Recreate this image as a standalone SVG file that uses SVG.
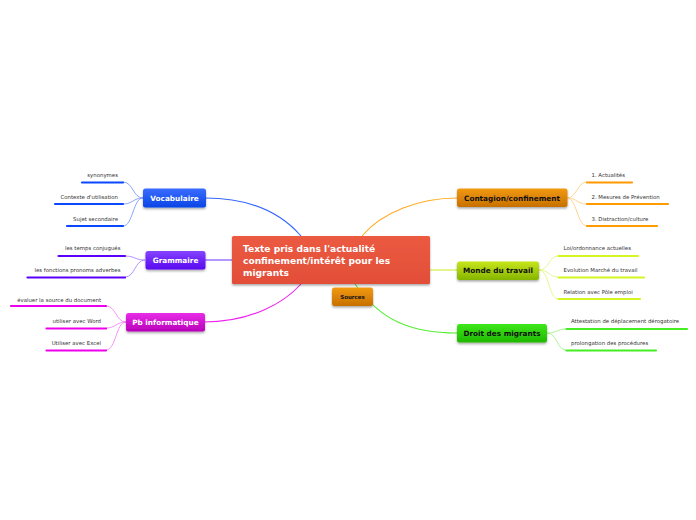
<svg xmlns="http://www.w3.org/2000/svg" width="696" height="520" viewBox="0 0 696 520">
<defs>
<filter id="sh" x="-20%" y="-30%" width="140%" height="170%"><feDropShadow dx="0" dy="1.5" stdDeviation="1.2" flood-color="#000" flood-opacity="0.35"/></filter>
<linearGradient id="gBlue" x1="0" y1="0" x2="0" y2="1"><stop offset="0" stop-color="#3a6cff"/><stop offset="1" stop-color="#0a45e6"/></linearGradient>
<linearGradient id="gPurple" x1="0" y1="0" x2="0" y2="1"><stop offset="0" stop-color="#8444ff"/><stop offset="1" stop-color="#5a08f0"/></linearGradient>
<linearGradient id="gMag" x1="0" y1="0" x2="0" y2="1"><stop offset="0" stop-color="#e82ee8"/><stop offset="1" stop-color="#b800b8"/></linearGradient>
<linearGradient id="gOrange" x1="0" y1="0" x2="0" y2="1"><stop offset="0" stop-color="#f29a12"/><stop offset="1" stop-color="#c77000"/></linearGradient>
<linearGradient id="gYel" x1="0" y1="0" x2="0" y2="1"><stop offset="0" stop-color="#c6e61a"/><stop offset="1" stop-color="#86b500"/></linearGradient>
<linearGradient id="gGreen" x1="0" y1="0" x2="0" y2="1"><stop offset="0" stop-color="#3ee81a"/><stop offset="1" stop-color="#1fb800"/></linearGradient>
<linearGradient id="gRed" x1="0" y1="0" x2="0" y2="1"><stop offset="0" stop-color="#ec5a42"/><stop offset="1" stop-color="#e24e38"/></linearGradient>
</defs>
<style>
.t{font-family:"DejaVu Sans",Verdana,sans-serif;font-weight:bold;font-size:7.3px;text-anchor:middle;dominant-baseline:central}
.w{fill:#fff}
.k{fill:#111}
.s{font-family:"DejaVu Sans",Verdana,sans-serif;font-size:5.4px;fill:#333}
.r{text-anchor:end}
.c{fill:none;stroke-width:1.1}
.cc{fill:none;stroke-width:0.8}
.u{stroke-width:2.2;stroke-linecap:round}
</style>
<g id="connectors">
<path class="c" stroke="#3366ff" d="M205,198 C252,198 282,214 301,236"/>
<path class="c" stroke="#7744ff" d="M205,260 L232,260"/>
<path class="c" stroke="#ee22ee" d="M204,322 C252,322 285,302 301,284"/>
<path class="c" stroke="#ffaa22" d="M362,236 C382,212 420,198 457,198"/>
<path class="c" stroke="#ccee33" d="M430,270 L457,270"/>
<path class="c" stroke="#55ee33" d="M355,284 C380,320 410,333 457,333"/>
<g stroke="#6f8fff">
<path class="cc" d="M143,198 C133,198 133,182 123,182"/>
<path class="cc" d="M143,198 C133,198 133,204 123,204"/>
<path class="cc" d="M143,198 C133,198 133,226 123,226"/>
</g>
<g stroke="#a07aff">
<path class="cc" d="M145,260 C135,260 135,256 125,256"/>
<path class="cc" d="M145,260 C135,260 135,277 125,277"/>
</g>
<g stroke="#f27af2">
<path class="cc" d="M126,322 C116,322 116,306 106,306"/>
<path class="cc" d="M126,322 C116,322 116,328 106,328"/>
<path class="cc" d="M126,322 C116,322 116,350 106,350"/>
</g>
<g stroke="#ffcc77">
<path class="cc" d="M567,198 C577,198 577,182 587,182"/>
<path class="cc" d="M567,198 C577,198 577,204 587,204"/>
<path class="cc" d="M567,198 C577,198 577,226 587,226"/>
</g>
<g stroke="#e0f577">
<path class="cc" d="M539,270 C549,270 549,256 558,256"/>
<path class="cc" d="M539,270 C549,270 549,277 558,277"/>
<path class="cc" d="M539,270 C549,270 549,299 558,299"/>
</g>
<g stroke="#99f27a">
<path class="cc" d="M547,333 C557,333 557,329 566,329"/>
<path class="cc" d="M547,333 C557,333 557,350 566,350"/>
</g>
</g>
<g id="central">
<rect x="232" y="236" width="198" height="48" rx="1.5" fill="url(#gRed)" filter="url(#sh)"/>
<text font-family="'DejaVu Sans',Verdana,sans-serif" font-weight="bold" font-size="9.1" fill="#fff"><tspan x="243" y="251.8">Texte pris dans l'actualité</tspan><tspan x="243" y="263.8">confinement/intérêt pour les</tspan><tspan x="243" y="275.8">migrants</tspan></text>
</g>
<g id="vocabulaire">
<rect x="143" y="188.5" width="63" height="19" rx="2.5" fill="url(#gBlue)" filter="url(#sh)"/>
<text class="t w" x="174.5" y="198">Vocabulaire</text>
<line class="u" stroke="#0a47ff" x1="82" y1="182.5" x2="123" y2="182.5"/>
<text class="s r" x="118" y="177">synonymes</text>
<line class="u" stroke="#0a47ff" x1="55" y1="204" x2="123" y2="204"/>
<text class="s r" x="118" y="198.7">Contexte d'utilisation</text>
<line class="u" stroke="#0a47ff" x1="67" y1="226" x2="123" y2="226"/>
<text class="s r" x="118" y="221">Sujet secondaire</text>
</g>
<g id="grammaire">
<rect x="145.5" y="251" width="60" height="18.5" rx="2.5" fill="url(#gPurple)" filter="url(#sh)"/>
<text class="t w" x="175.5" y="260.3">Grammaire</text>
<line class="u" stroke="#5a00ff" x1="58.5" y1="256" x2="125" y2="256"/>
<text class="s r" x="120.5" y="250">les temps conjugués</text>
<line class="u" stroke="#5a00ff" x1="27.5" y1="277.5" x2="125" y2="277.5"/>
<text class="s r" x="120.5" y="271.8">les fonctions pronoms adverbes</text>
</g>
<g id="pb-informatique">
<rect x="126" y="313" width="79" height="18.5" rx="2.5" fill="url(#gMag)" filter="url(#sh)"/>
<text class="t w" x="165.5" y="322.3">Pb informatique</text>
<line class="u" stroke="#ee00ee" x1="11" y1="306" x2="106" y2="306"/>
<text class="s r" x="101" y="302">évaluer la source du document</text>
<line class="u" stroke="#ee00ee" x1="46.5" y1="328.5" x2="106" y2="328.5"/>
<text class="s r" x="101" y="323">utiliser avec Word</text>
<line class="u" stroke="#ee00ee" x1="46.5" y1="350.5" x2="106" y2="350.5"/>
<text class="s r" x="101" y="344.7">Utiliser avec Excel</text>
</g>
<g id="contagion">
<rect x="457" y="188.5" width="110.5" height="18.5" rx="2.5" fill="url(#gOrange)" filter="url(#sh)"/>
<text class="t k" x="512" y="198">Contagion/confinement</text>
<line class="u" stroke="#ff9a00" x1="587" y1="182.5" x2="632" y2="182.5"/>
<text class="s" x="591.5" y="177">1.  Actualités</text>
<line class="u" stroke="#ff9a00" x1="587" y1="204" x2="668" y2="204"/>
<text class="s" x="591.5" y="198.7">2.  Mesures de Prévention</text>
<line class="u" stroke="#ff9a00" x1="587" y1="226" x2="657" y2="226"/>
<text class="s" x="591.5" y="221">3.  Distraction/culture</text>
</g>
<g id="monde-du-travail">
<rect x="457" y="261.5" width="82" height="18.5" rx="2.5" fill="url(#gYel)" filter="url(#sh)"/>
<text class="t k" x="498" y="270.8">Monde du travail</text>
<line class="u" stroke="#d4f520" x1="558.5" y1="256" x2="638" y2="256"/>
<text class="s" x="563.5" y="250.3">Loi/ordonnance actuelles</text>
<line class="u" stroke="#d4f520" x1="558.5" y1="277.5" x2="644" y2="277.5"/>
<text class="s" x="563.5" y="272">Evolution Marché du travail</text>
<line class="u" stroke="#d4f520" x1="558.5" y1="299" x2="640" y2="299"/>
<text class="s" x="563.5" y="293.7">Relation avec Pôle emploi</text>
</g>
<g id="droit-des-migrants">
<rect x="457" y="324" width="90" height="18.5" rx="2.5" fill="url(#gGreen)" filter="url(#sh)"/>
<text class="t k" x="502" y="333.3">Droit des migrants</text>
<line class="u" stroke="#44ee22" x1="566.5" y1="329" x2="687" y2="329"/>
<text class="s" x="571" y="322.7">Attestation de déplacement dérogatoire</text>
<line class="u" stroke="#44ee22" x1="566.5" y1="350.5" x2="656" y2="350.5"/>
<text class="s" x="571" y="344.7">prolongation des procédures</text>
</g>
<g id="sources">
<rect x="332" y="287.5" width="41" height="18.5" rx="2.5" fill="url(#gOrange)" filter="url(#sh)"/>
<text class="t k" x="352.5" y="296.8" style="font-size:5.5px">Sources</text>
</g>
</svg>
